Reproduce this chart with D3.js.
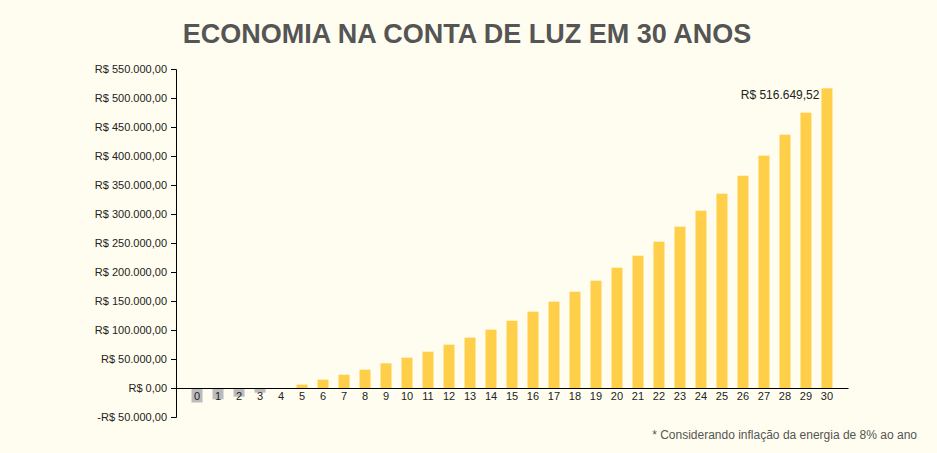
<!DOCTYPE html>
<html>
<head>
<meta charset="utf-8">
<script src="https://cdn.jsdelivr.net/npm/d3@7"></script>
<style>
  body { margin: 0; background: #fffdef; }
  svg { display: block; font-family: "Liberation Sans", Arial, sans-serif; }
</style>
</head>
<body>
<svg id="chart"></svg>
<script>
// years and estimated savings (R$)
const anos = d3.range(0, 31);
const economia = [
    -25000, -19500, -15000, -8000, -600, 5700, 14300, 23000, 31600, 42500,
    52300, 62600, 74700, 86800, 100500, 116000, 131600, 148800, 166000, 185000,
    207400, 228100, 252300, 278100, 305700, 335000, 366000, 400500, 436700, 474700,
    516649.52
];
const yTicks = [-50000, 0, 50000, 100000, 150000, 200000, 250000, 300000, 350000, 400000, 450000, 500000, 550000];

const width = 937, height = 453;
let margin = { top: 69, right: 89, bottom: 36, left: 176 };

const svg = d3.select("#chart")
    .attr("width", width)
    .attr("height", height);

svg.append("rect")
    .attr("width", width)
    .attr("height", height)
    .attr("fill", "#fffdef");

const brl = d3.formatLocale({
    decimal: ",", thousands: ".", grouping: [3], currency: ["R$ ", ""]
});
const fmt = function (v) {
    return (v < 0 ? "-" : "") + "R$ " + brl.format(",.2f")(Math.abs(v));
};

const x = d3.scaleBand()
    .domain(anos)
    .range([margin.left, width - margin.right])
    .paddingInner(0.476)
    .paddingOuter(0.74);

const y = d3.scaleLinear()
    .domain([-50000, 550000])
    .range([height - margin.bottom, margin.top]);

// title
svg.append("text")
    .attr("x", 467)
    .attr("y", 43)
    .attr("text-anchor", "middle")
    .attr("fill", "#555555")
    .style("font-size", "27px")
    .style("font-weight", "bold")
    .text("ECONOMIA NA CONTA DE LUZ EM 30 ANOS");

// bars
svg.selectAll(".bar")
    .data(anos)
    .enter().append("rect")
    .attr("class", "bar")
    .attr("x", function (d) { return x(d); })
    .attr("width", x.bandwidth())
    .attr("y", function (d, i) { return y(Math.max(0, economia[i])); })
    .attr("height", function (d, i) { return Math.abs(y(economia[i]) - y(0)); })
    .attr("fill", function (d, i) { return economia[i] < 0 ? "#bbbbbb" : "#ffcf4a"; });

// y axis
const yAxis = svg.append("g")
    .attr("transform", "translate(" + margin.left + ",0)")
    .call(d3.axisLeft(y).tickValues(yTicks).tickFormat(fmt).tickSizeOuter(0).tickSize(5).tickPadding(4));
yAxis.selectAll("text").style("font-size", "11px").attr("fill", "#222");
yAxis.select(".domain").attr("stroke", "#000");

// x axis at zero
const xAxis = svg.append("g")
    .attr("transform", "translate(0," + y(0) + ")")
    .call(d3.axisBottom(x).tickSize(0).tickSizeOuter(0).tickPadding(4));
xAxis.selectAll("text").style("font-size", "11px").attr("fill", "#222");
xAxis.select(".domain").attr("stroke", "#000");

// label on last bar
const last = anos[anos.length - 1];
svg.append("text")
    .attr("x", x(last) - 2)
    .attr("y", y(economia[economia.length - 1]) + 11)
    .attr("text-anchor", "end")
    .attr("fill", "#222")
    .style("font-size", "12px")
    .text(fmt(economia[economia.length - 1]));

// footnote
svg.append("text")
    .attr("x", 917)
    .attr("y", 439)
    .attr("text-anchor", "end")
    .attr("fill", "#555555")
    .style("font-size", "12px")
    .text("* Considerando inflação da energia de 8% ao ano");
</script>
</body>
</html>
